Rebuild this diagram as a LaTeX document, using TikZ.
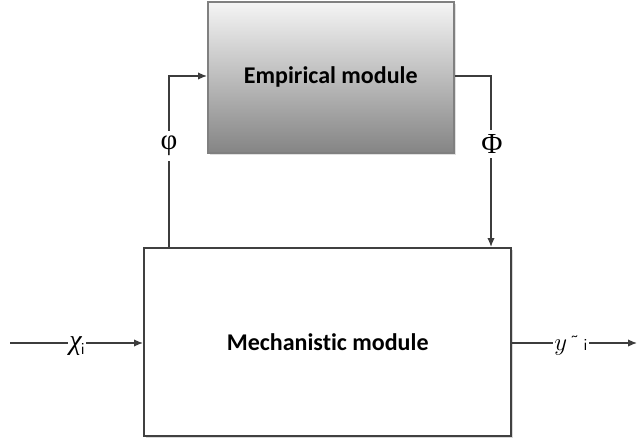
\documentclass[tikz,border=0pt]{standalone}
\usepackage{fontspec}
\setmainfont{Carlito}[Ligatures={NoCommon}]
\newfontfamily\grk{Liberation Serif}
\usetikzlibrary{arrows.meta,shadows}
\definecolor{boxedge}{HTML}{404040}
\definecolor{lineclr}{HTML}{3C3C3C}
\tikzset{
  module/.style={draw=boxedge, line width=2.4pt, fill=white, inner sep=0pt,
    drop shadow={shadow xshift=2pt, shadow yshift=-2pt, fill=black!15, opacity=1}},
  empbox/.style={draw=black!50, line width=1.6pt, inner sep=0pt,
    top color=black!4, bottom color=black!48,
    drop shadow={shadow xshift=2pt, shadow yshift=-2pt, fill=black!12, opacity=1}},
  flow/.style={draw=lineclr, line width=1.4pt, -{Latex[length=9pt,width=7.5pt]}},
  sig/.style={fill=white, inner xsep=2pt, inner ysep=5pt, font=\grk\fontsize{29}{30}\selectfont},
  ttl/.style={font=\bfseries\fontsize{24}{26}\selectfont}
}
\begin{document}
\begin{tikzpicture}[x=1pt,y=-1pt]
\useasboundingbox (0,0) rectangle (637,441);

% the two modules
\node[empbox, minimum width=246pt, minimum height=151pt, anchor=north west] (emp) at (207,1) {};
\node[ttl] at (emp.center) {Empirical module};
\node[module, minimum width=367pt, minimum height=188pt, anchor=north west] (mech) at (143,247) {};
\node[ttl] at (mech.center) {Mechanistic module};

% feedback loop between the modules
\coordinate (phiTop) at (169,76);
\coordinate (phiBot) at (169,247);
\coordinate (PhiTop) at (491,76);
\coordinate (PhiBot) at (491,247);
\draw[flow] (phiBot) -- (phiTop) -- (emp.west |- phiTop);
\draw[flow] (emp.east |- PhiTop) -- (PhiTop) -- (PhiBot);
\node[sig] (phi) at (169,146) {φ};
\node[sig] (Phi) at (492,144) {Φ};

% input and output signals
\coordinate (in) at (10,343);
\coordinate (out) at (637,343);
\draw[flow] (in) -- (mech.west |- in);
\draw[flow] (mech.east |- out) -- (out);
\node[fill=white, inner sep=1.5pt] (xi) at (77,346) {\grk\fontsize{28}{30}\selectfont\itshape χ\kern-1pt\raisebox{-5pt}{\sffamily\upshape\fontsize{17}{18}\selectfont i}};
\node[fill=white, inner sep=1.5pt] (yi) at (571,346) {\fontsize{30}{30}\selectfont$y$\kern4pt\raisebox{10pt}{\fontsize{13}{13}\selectfont\textasciitilde}\kern6pt{\sffamily\fontsize{17}{18}\selectfont i}};
\end{tikzpicture}
\end{document}
